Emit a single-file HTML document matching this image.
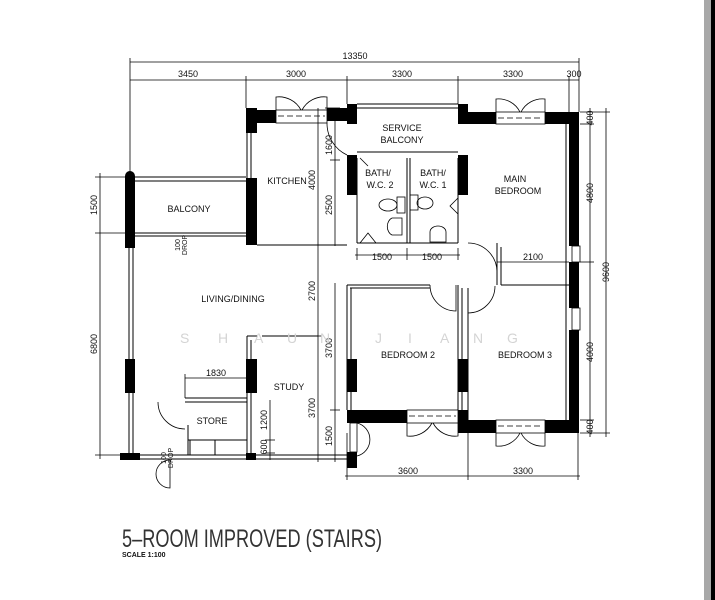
<!DOCTYPE html>
<html><head><meta charset="utf-8"><style>
html,body{margin:0;padding:0;background:#fff;width:715px;height:600px;overflow:hidden}
svg{display:block}
text{font-family:"Liberation Sans Narrow","Liberation Sans",sans-serif;fill:#111}
</style></head><body>
<svg width="715" height="600" viewBox="0 0 715 600" xmlns="http://www.w3.org/2000/svg">
<rect x="704" y="0" width="7" height="600" fill="#a8a8a8"/>
<rect x="711" y="0" width="4" height="600" fill="#000"/>

<g stroke="#000" stroke-width="0.8" fill="none">
<line x1="130" y1="62" x2="579" y2="62"/>
<line x1="130" y1="80" x2="579" y2="80"/>
<line x1="130" y1="58" x2="130" y2="172"/>
<line x1="579" y1="58" x2="579" y2="112"/>
<line x1="246" y1="76" x2="246" y2="108"/>
<line x1="347" y1="76" x2="347" y2="104"/>
<line x1="458" y1="76" x2="458" y2="104"/>
<line x1="569" y1="76" x2="569" y2="112"/>
<line x1="590" y1="108" x2="590" y2="437"/>
<line x1="606" y1="108" x2="606" y2="437"/>
<line x1="580" y1="112" x2="610" y2="112"/>
<line x1="580" y1="124" x2="594" y2="124"/>
<line x1="580" y1="262" x2="594" y2="262"/>
<line x1="580" y1="420" x2="594" y2="420"/>
<line x1="580" y1="433" x2="610" y2="433"/>
<line x1="100" y1="173" x2="100" y2="459"/>
<line x1="95" y1="177" x2="128" y2="177"/>
<line x1="95" y1="233" x2="128" y2="233"/>
<line x1="95" y1="455" x2="120" y2="455"/>
<line x1="345" y1="476" x2="580" y2="476"/>
<line x1="347" y1="433" x2="347" y2="480"/>
<line x1="468" y1="433" x2="468" y2="480"/>
<line x1="578" y1="433" x2="578" y2="480"/>
<line x1="318" y1="108" x2="318" y2="462"/>
<line x1="335" y1="108" x2="335" y2="246"/>
<line x1="335" y1="283" x2="335" y2="462"/>
<line x1="313" y1="245" x2="340" y2="245"/>
<line x1="313" y1="336" x2="322" y2="336"/>
<line x1="330" y1="160" x2="340" y2="160"/>
<line x1="330" y1="410" x2="340" y2="410"/>
<line x1="325" y1="108" x2="340" y2="108"/>
<line x1="355" y1="255" x2="460" y2="255"/>
<line x1="357" y1="248" x2="357" y2="260"/>
<line x1="407" y1="248" x2="407" y2="260"/>
<line x1="458" y1="248" x2="458" y2="260"/>
<line x1="497" y1="262" x2="569" y2="262"/>
<line x1="185" y1="378" x2="247" y2="378"/>
<line x1="185" y1="374" x2="185" y2="398"/>
<line x1="270" y1="400" x2="270" y2="460"/>
<line x1="265" y1="440" x2="275" y2="440"/>
<line x1="265" y1="453" x2="275" y2="453"/>
</g>

<g stroke="#000" stroke-width="1" fill="none">
<line x1="357" y1="104" x2="458" y2="104"/>
<line x1="357" y1="108" x2="458" y2="108"/>
<line x1="357" y1="152" x2="458" y2="152"/>
<line x1="357" y1="158" x2="357" y2="243"/>
<line x1="407" y1="158" x2="407" y2="243"/>
<line x1="410" y1="158" x2="410" y2="243"/>
<line x1="458" y1="158" x2="458" y2="243"/>
<line x1="357" y1="243" x2="458" y2="243"/>
<line x1="130" y1="177" x2="246" y2="177"/>
<line x1="130" y1="181" x2="246" y2="181"/>
<line x1="135" y1="233" x2="246" y2="233"/>
<line x1="135" y1="236" x2="246" y2="236"/>
<line x1="257" y1="245" x2="347" y2="245"/>
<line x1="247" y1="133" x2="247" y2="178"/>
<line x1="251" y1="133" x2="251" y2="178"/>
<line x1="497" y1="243" x2="497" y2="285"/>
<line x1="501" y1="247" x2="501" y2="285"/>
<line x1="347" y1="285" x2="430" y2="285"/>
<line x1="350" y1="288" x2="430" y2="288"/>
<line x1="347" y1="285" x2="347" y2="410"/>
<line x1="351" y1="288" x2="351" y2="410"/>
<line x1="458" y1="285" x2="458" y2="410"/>
<line x1="462" y1="288" x2="462" y2="420"/>
<line x1="468" y1="288" x2="468" y2="420"/>
<line x1="501" y1="285" x2="569" y2="285"/>
<line x1="566" y1="124" x2="566" y2="420"/>
<line x1="129" y1="248" x2="129" y2="455"/>
<line x1="133" y1="248" x2="133" y2="455"/>
<line x1="247" y1="336" x2="247" y2="455"/>
<line x1="251" y1="340" x2="251" y2="455"/>
<line x1="247" y1="336" x2="257" y2="336"/>
<line x1="262" y1="336" x2="318" y2="336"/>
<line x1="185" y1="398" x2="247" y2="398"/>
<line x1="185" y1="402" x2="247" y2="402"/>
<line x1="188" y1="440" x2="247" y2="440"/>
<line x1="140" y1="455" x2="347" y2="455"/>
<line x1="140" y1="459" x2="347" y2="459"/>
<line x1="190" y1="440" x2="190" y2="455"/>
<line x1="215" y1="440" x2="215" y2="455"/>
<line x1="188" y1="425" x2="188" y2="455"/>
</g>

<g fill="#000">
<rect x="246" y="108" width="11" height="25"/>
<rect x="246" y="110" width="30" height="13"/>
<rect x="327" y="108" width="30" height="13"/>
<rect x="347" y="104" width="10" height="20"/>
<rect x="458" y="104" width="10" height="20"/>
<rect x="458" y="112" width="38" height="12"/>
<rect x="545" y="112" width="34" height="12"/>
<rect x="569" y="112" width="10" height="134"/>
<rect x="569" y="262" width="10" height="46"/>
<rect x="569" y="330" width="10" height="103"/>
<rect x="458" y="420" width="38" height="13"/>
<rect x="545" y="420" width="34" height="13"/>
<rect x="347" y="410" width="60" height="13"/>
<rect x="458" y="410" width="10" height="23"/>
<rect x="347" y="155" width="10" height="40"/>
<rect x="458" y="155" width="10" height="40"/>
<rect x="246" y="178" width="11" height="67"/>
<rect x="125" y="176" width="10" height="72"/>
<circle cx="130" cy="176" r="5"/>
<rect x="125" y="359" width="10" height="34"/>
<rect x="120" y="453" width="20" height="7"/>
<rect x="246" y="359" width="11" height="34"/>
<rect x="246" y="453" width="10" height="7"/>
<rect x="347" y="359" width="10" height="33"/>
<rect x="458" y="359" width="10" height="33"/>
<rect x="347" y="452" width="10" height="16"/>
</g>

<g stroke="#000" stroke-width="0.8" fill="none">
<rect x="276" y="110" width="51" height="13"/>
<line x1="278" y1="116" x2="325" y2="116" stroke-dasharray="6 3"/>
<path d="M276 110 V97 A25 25 0 0 1 301 110 M327 110 V97 A25 25 0 0 0 302 110"/>
<rect x="496" y="112" width="49" height="12"/>
<line x1="498" y1="118" x2="543" y2="118" stroke-dasharray="6 3"/>
<path d="M496 112 V99 A24 24 0 0 1 520 112 M545 112 V99 A24 24 0 0 0 521 112"/>
<rect x="407" y="410" width="51" height="13"/>
<line x1="409" y1="416" x2="456" y2="416" stroke-dasharray="6 3"/>
<path d="M407 423 V436 A25 25 0 0 0 432 423 M458 423 V436 A25 25 0 0 1 433 423"/>
<rect x="496" y="420" width="49" height="13"/>
<line x1="498" y1="426" x2="543" y2="426" stroke-dasharray="6 3"/>
<path d="M496 433 V446 A24 24 0 0 0 520 433 M545 433 V446 A24 24 0 0 1 521 433"/>
<rect x="572" y="246" width="8" height="16" fill="#fff"/>
<rect x="572" y="308" width="8" height="22" fill="#fff"/>
<path d="M468 243 A29 29 0 0 1 497 272 L497 285"/>
<path d="M430 285 A26 26 0 0 0 456 311 L456 285"/>
<path d="M468 313 A27 27 0 0 0 495 286"/>
<path d="M327 123 A35 35 0 0 0 347 155"/>
<path d="M158 402 A27 27 0 0 0 185 429"/>
<path d="M170 460 A14 14 0 0 0 156 474 A14 14 0 0 0 170 488 L170 460"/>
<rect x="350" y="423" width="7" height="29"/>
<path d="M357 423 A17 17 0 0 1 357 456"/>
<ellipse cx="388" cy="205" rx="9" ry="6"/>
<rect x="397" y="197" width="8" height="16"/>
<ellipse cx="425" cy="203" rx="8" ry="6"/>
<rect x="410" y="195" width="8" height="15"/>
<path d="M392 218 h10 v17 h-10 a7 9 0 0 1 0 -17"/>
<path d="M430 232 a8 6 0 0 1 16 0 v10 h-16 z"/>
<path d="M360 243 l8 -10 l8 10"/>
<path d="M458 198 l-8 8 l8 8"/>
<path d="M360 158 l8 8"/>
</g>

<g font-size="9" text-anchor="middle">
<text x="355" y="59">13350</text>
<text x="188" y="77">3450</text>
<text x="296" y="77">3000</text>
<text x="402" y="77">3300</text>
<text x="513" y="77">3300</text>
<text x="574" y="77">300</text>
<text x="402" y="131">SERVICE</text>
<text x="402" y="143">BALCONY</text>
<text x="287" y="184">KITCHEN</text>
<text x="189" y="212">BALCONY</text>
<text x="378" y="176">BATH/</text>
<text x="380" y="188">W.C. 2</text>
<text x="433" y="176">BATH/</text>
<text x="433" y="188">W.C. 1</text>
<text x="515" y="182">MAIN</text>
<text x="518" y="194">BEDROOM</text>
<text x="382" y="260">1500</text>
<text x="432" y="260">1500</text>
<text x="533" y="260">2100</text>
<text x="233" y="302">LIVING/DINING</text>
<text x="408" y="358">BEDROOM 2</text>
<text x="525" y="358">BEDROOM 3</text>
<text x="216" y="376">1830</text>
<text x="289" y="390">STUDY</text>
<text x="212" y="424">STORE</text>
<text x="408" y="474">3600</text>
<text x="523" y="474">3300</text>
</g>
<g font-size="9" text-anchor="middle">
<text transform="translate(315,180) rotate(-90)">4000</text>
<text transform="translate(332,145) rotate(-90)">1600</text>
<text transform="translate(332,205) rotate(-90)">2500</text>
<text transform="translate(315,291) rotate(-90)">2700</text>
<text transform="translate(332,348) rotate(-90)">3700</text>
<text transform="translate(315,408) rotate(-90)">3700</text>
<text transform="translate(332,436) rotate(-90)">1500</text>
<text transform="translate(267,420) rotate(-90)">1200</text>
<text transform="translate(267,447) rotate(-90)">600</text>
<text transform="translate(97,205) rotate(-90)">1500</text>
<text transform="translate(97,344) rotate(-90)">6800</text>
<text transform="translate(593,118) rotate(-90)">400</text>
<text transform="translate(593,193) rotate(-90)">4800</text>
<text transform="translate(593,352) rotate(-90)">4000</text>
<text transform="translate(593,427) rotate(-90)">400</text>
<text transform="translate(609,272) rotate(-90)">9600</text>
</g>
<g font-size="7" text-anchor="middle">
<text transform="translate(180,245) rotate(-90)">100</text>
<text transform="translate(187,245) rotate(-90)">DROP</text>
<text transform="translate(166,458) rotate(-90)">100</text>
<text transform="translate(173,458) rotate(-90)">DROP</text>
</g>
<g font-size="14" font-family="Liberation Sans">
<text x="180" y="343" style="fill:#d4d4d4">S</text>
<text x="218" y="343" style="fill:#d4d4d4">H</text>
<text x="254" y="343" style="fill:#d4d4d4">A</text>
<text x="287" y="343" style="fill:#d4d4d4">U</text>
<text x="320" y="343" style="fill:#d4d4d4">N</text>
<text x="375" y="343" style="fill:#d4d4d4">J</text>
<text x="408" y="343" style="fill:#d4d4d4">I</text>
<text x="440" y="343" style="fill:#d4d4d4">A</text>
<text x="473" y="343" style="fill:#d4d4d4">N</text>
<text x="507" y="343" style="fill:#d4d4d4">G</text>
</g>
<text x="122" y="547" font-size="25" style="fill:#333" textLength="260" lengthAdjust="spacingAndGlyphs">5–ROOM IMPROVED (STAIRS)</text>
<text x="122" y="557" font-size="7" font-weight="bold">SCALE 1:100</text>
</svg>
</body></html>
